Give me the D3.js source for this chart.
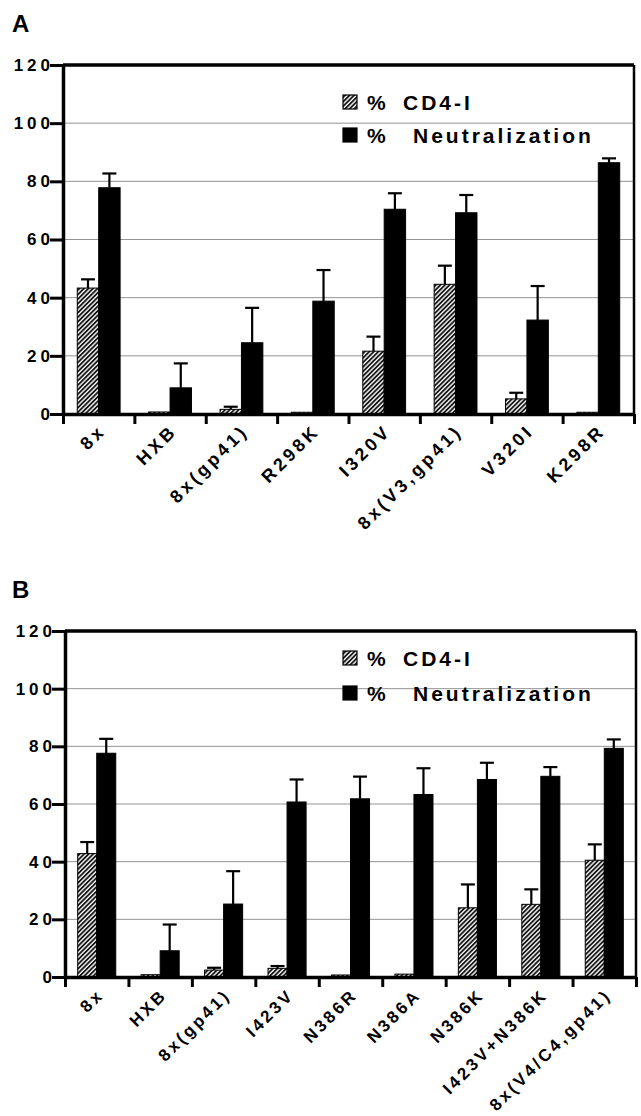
<!DOCTYPE html>
<html>
<head>
<meta charset="utf-8">
<script src="https://cdn.jsdelivr.net/npm/d3@7"></script>
<style>
  body { margin: 0; background: #fff; }
  svg { display: block; }
  text { font-family: "Liberation Sans", Arial, Helvetica, sans-serif; font-weight: bold; fill: #000; }
</style>
</head>
<body>
<div id="chart"></div>
<script>
// values (percent)
var seriesNames = ["% CD4-I", "% Neutralization"];
var yTicks = [0, 20, 40, 60, 80, 100, 120];

var categoriesA = ["8x", "HXB", "8x(gp41)", "R298K", "I320V", "8x(V3,gp41)", "V320I", "K298R"];
var cd4iA = [43.3, 0.7, 1.6, 0.6, 21.6, 44.6, 5.2, 0.6];
var cd4iErrA = [3.0, 0, 0.9, 0, 5.0, 6.4, 2.1, 0];
var neutA = [77.8, 9.0, 24.5, 38.8, 70.4, 69.2, 32.3, 86.4];
var neutErrA = [4.9, 8.4, 12.0, 10.7, 5.5, 6.1, 11.7, 1.5];

var categoriesB = ["8x", "HXB", "8x(gp41)", "I423V", "N386R", "N386A", "N386K", "I423V+N386K", "8x(V4/C4,gp41)"];
var cd4iB = [42.8, 0.8, 2.4, 3.0, 0.7, 1.0, 24.0, 25.2, 40.5];
var cd4iErrB = [4.0, 0, 0.8, 0.8, 0, 0, 8.1, 5.2, 5.5];
var neutB = [77.6, 9.1, 25.3, 60.7, 61.8, 63.3, 68.5, 69.6, 79.3];
var neutErrB = [5.0, 9.1, 11.4, 7.8, 7.7, 9.1, 5.8, 3.2, 3.1];

var W = 641, H = 1116;

var svg = d3.select("#chart")
  .append("svg")
  .attr("width", W)
  .attr("height", H);

svg.append("rect").attr("width", W).attr("height", H).attr("fill", "#fff");

// hatching for the CD4-I bars
svg.append("defs")
  .append("pattern")
  .attr("id", "hatch")
  .attr("patternUnits", "userSpaceOnUse")
  .attr("width", 3.2)
  .attr("height", 3.2)
  .attr("patternTransform", "rotate(45)")
  .call(function (p) {
    p.append("rect").attr("width", 3.2).attr("height", 3.2).attr("fill", "#fff");
    p.append("line")
      .attr("x1", 1).attr("y1", 0).attr("x2", 1).attr("y2", 3.2)
      .attr("stroke", "#000").attr("stroke-width", 1.7);
  });

function drawPanel(opt) {
  var g = svg.append("g");
  var n = opt.categories.length;

  var y = d3.scaleLinear().domain([0, 120]).range([opt.bottom, opt.top]);
  var x = d3.scaleBand().domain(opt.categories).range([opt.left, opt.right]).padding(0);
  var edge = d3.scaleLinear().domain([0, n]).range([opt.left, opt.right]);
  var bw = x.bandwidth();
  var inner = d3.scaleBand().domain([0, 1]).range([bw * 0.2, bw * 0.8]).padding(0);

  // panel letter
  g.append("text")
    .attr("x", 12)
    .attr("y", opt.top - 33)
    .style("font-size", "24px")
    .text(opt.letter);

  // grid lines
  g.append("g")
    .selectAll("line")
    .data(yTicks.filter(function (d) { return d > 0 && d < 120; }))
    .join("line")
    .attr("x1", opt.left)
    .attr("x2", opt.right)
    .attr("y1", function (d) { return y(d); })
    .attr("y2", function (d) { return y(d); })
    .attr("stroke", "#888")
    .attr("stroke-width", 0.9);

  // bars
  var rows = opt.categories.map(function (c, i) {
    return [
      { cat: c, s: 0, v: opt.cd4i[i], e: opt.cd4iErr[i] },
      { cat: c, s: 1, v: opt.neut[i], e: opt.neutErr[i] }
    ];
  });
  var flat = [].concat.apply([], rows);

  g.append("g")
    .selectAll("rect")
    .data(flat)
    .join("rect")
    .attr("x", function (d) { return x(d.cat) + inner(d.s); })
    .attr("width", inner.bandwidth())
    .attr("y", function (d) { return y(d.v); })
    .attr("height", function (d) { return y(0) - y(d.v); })
    .attr("fill", function (d) { return d.s === 0 ? "url(#hatch)" : "#000"; })
    .attr("stroke", "#000")
    .attr("stroke-width", 1);

  // error bars (upper only)
  var eb = g.append("g")
    .selectAll("g")
    .data(flat.filter(function (d) { return d.e > 0; }))
    .join("g")
    .attr("stroke", "#000")
    .attr("stroke-width", 2.2);
  eb.append("line")
    .attr("x1", function (d) { return x(d.cat) + inner(d.s) + inner.bandwidth() / 2; })
    .attr("x2", function (d) { return x(d.cat) + inner(d.s) + inner.bandwidth() / 2; })
    .attr("y1", function (d) { return y(d.v); })
    .attr("y2", function (d) { return y(d.v + d.e); });
  eb.append("line")
    .attr("x1", function (d) { return x(d.cat) + inner(d.s) + inner.bandwidth() / 2 - 7; })
    .attr("x2", function (d) { return x(d.cat) + inner(d.s) + inner.bandwidth() / 2 + 7; })
    .attr("y1", function (d) { return y(d.v + d.e); })
    .attr("y2", function (d) { return y(d.v + d.e); });

  // frame: top and right
  g.append("line")
    .attr("x1", opt.left).attr("x2", opt.right)
    .attr("y1", opt.top).attr("y2", opt.top)
    .attr("stroke", "#000").attr("stroke-width", 3.5);
  g.append("line")
    .attr("x1", opt.right).attr("x2", opt.right)
    .attr("y1", opt.top).attr("y2", opt.bottom)
    .attr("stroke", "#000").attr("stroke-width", 2.5);

  // y axis
  var yAxis = g.append("g")
    .attr("transform", "translate(" + opt.left + ",0)")
    .call(d3.axisLeft(y).tickValues(yTicks).tickSize(13).tickSizeOuter(0));
  yAxis.select(".domain").attr("stroke-width", 3.5);
  yAxis.selectAll(".tick line").attr("stroke-width", 3);
  yAxis.selectAll(".tick text")
    .attr("x", -9)
    .style("font-size", "17px")
    .style("letter-spacing", "4px");

  // x axis: ticks at group edges
  var xAxis = g.append("g")
    .attr("transform", "translate(0," + opt.bottom + ")")
    .call(d3.axisBottom(edge).tickValues(d3.range(n + 1)).tickFormat("").tickSize(10).tickSizeOuter(0));
  xAxis.select(".domain").attr("stroke-width", 3.5);
  xAxis.selectAll(".tick line").attr("stroke-width", 3);

  // category labels, rotated inside their own group
  var xLab = g.append("g")
    .attr("transform", "translate(0," + opt.bottom + ")")
    .call(d3.axisBottom(x).tickSize(0).tickFormat(""));
  xLab.select(".domain").remove();
  xLab.selectAll(".tick text").remove();
  xLab.selectAll(".tick")
    .append("g")
    .attr("transform", "translate(8," + opt.labelDy + ") rotate(-45)")
    .append("text")
    .attr("text-anchor", "end")
    .attr("fill", "#000")
    .style("font-size", opt.labelSize + "px")
    .style("letter-spacing", opt.labelSpacing + "px")
    .text(function (d) { return d; });

  // legend
  var lg = g.append("g");
  seriesNames.forEach(function (name, i) {
    var cy = opt.legendY[i];
    lg.append("rect")
      .attr("x", 343).attr("y", cy - 7)
      .attr("width", 14).attr("height", 14)
      .attr("fill", i === 0 ? "url(#hatch)" : "#000")
      .attr("stroke", "#000").attr("stroke-width", 1.2);
    var parts = name.split(" ");
    var t = lg.append("text")
      .attr("y", cy + 7.5)
      .style("font-size", "21px")
      .style("letter-spacing", "3px");
    t.append("tspan").attr("x", 367).text(parts[0]);
    t.append("tspan").attr("x", i === 0 ? 403 : 413).text(parts[1]);
  });
}

drawPanel({
  letter: "A",
  categories: categoriesA,
  cd4i: cd4iA, cd4iErr: cd4iErrA,
  neut: neutA, neutErr: neutErrA,
  left: 63, right: 634, top: 65, bottom: 414,
  labelDy: 18, labelSize: 18, labelSpacing: 3.5,
  legendY: [102, 135]
});

drawPanel({
  letter: "B",
  categories: categoriesB,
  cd4i: cd4iB, cd4iErr: cd4iErrB,
  neut: neutB, neutErr: neutErrB,
  left: 65, right: 636, top: 631, bottom: 977,
  labelDy: 19, labelSize: 17, labelSpacing: 3,
  legendY: [658, 693]
});
</script>
</body>
</html>
